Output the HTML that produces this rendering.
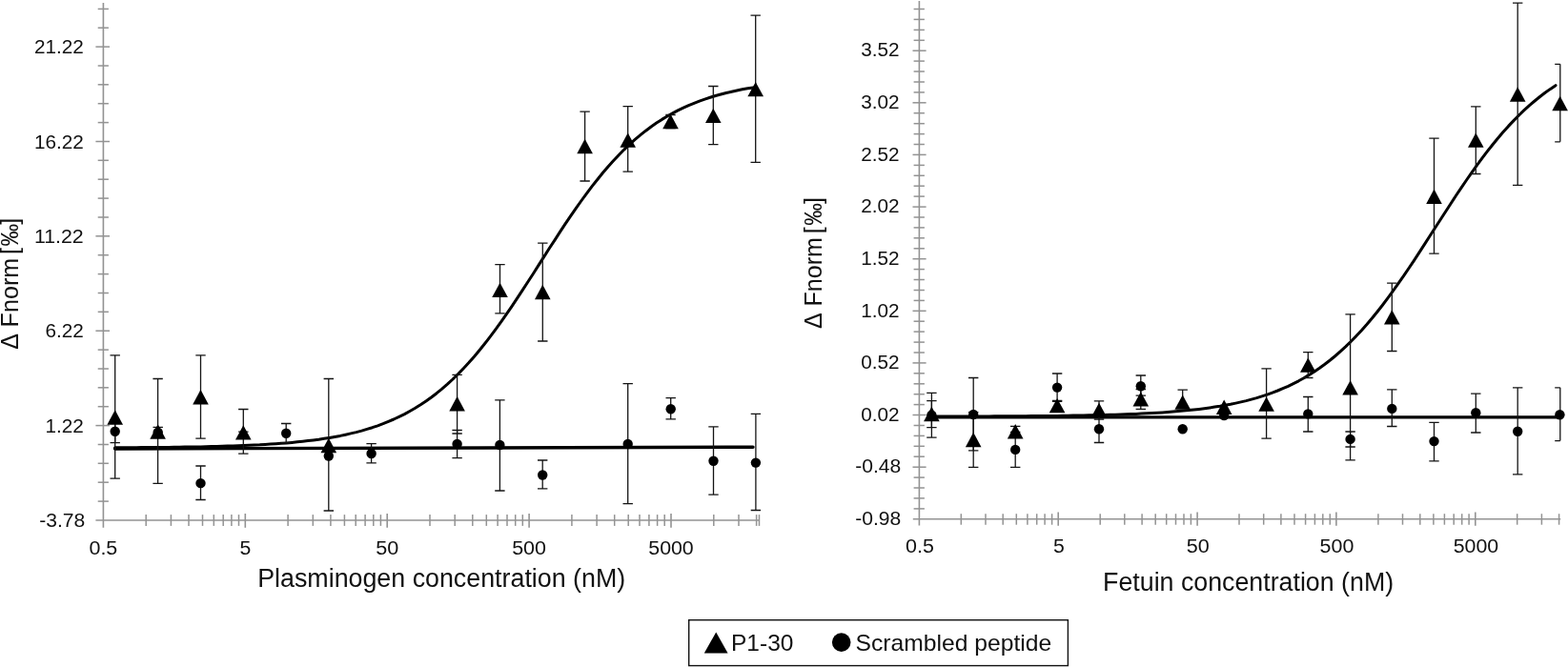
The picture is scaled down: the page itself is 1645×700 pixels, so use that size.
<!DOCTYPE html>
<html lang="en"><head><meta charset="utf-8"><title>MST binding curves</title>
<style>
html,body{margin:0;padding:0;background:#fff;}
body{width:1645px;height:700px;overflow:hidden;}
svg{display:block;}
svg text{font-family:"Liberation Sans",sans-serif;fill:#111;}
</style></head><body>
<svg width="1645" height="700" viewBox="0 0 1645 700">
<rect width="1645" height="700" fill="#fff"/>
<line x1="108.4" y1="3.0" x2="108.4" y2="553.8" stroke="#939393" stroke-width="1.6"/>
<line x1="100.4" y1="546.0" x2="796.6" y2="546.0" stroke="#939393" stroke-width="1.6"/>
<line x1="102.7" y1="9.4" x2="113.9" y2="9.4" stroke="#939393" stroke-width="1.5"/>
<line x1="102.7" y1="29.2" x2="113.9" y2="29.2" stroke="#939393" stroke-width="1.5"/>
<line x1="100.4" y1="49.1" x2="115.0" y2="49.1" stroke="#939393" stroke-width="1.5"/>
<line x1="102.7" y1="69.0" x2="113.9" y2="69.0" stroke="#939393" stroke-width="1.5"/>
<line x1="102.7" y1="88.8" x2="113.9" y2="88.8" stroke="#939393" stroke-width="1.5"/>
<line x1="102.7" y1="108.7" x2="113.9" y2="108.7" stroke="#939393" stroke-width="1.5"/>
<line x1="102.7" y1="128.6" x2="113.9" y2="128.6" stroke="#939393" stroke-width="1.5"/>
<line x1="100.4" y1="148.5" x2="115.0" y2="148.5" stroke="#939393" stroke-width="1.5"/>
<line x1="102.7" y1="168.3" x2="113.9" y2="168.3" stroke="#939393" stroke-width="1.5"/>
<line x1="102.7" y1="188.2" x2="113.9" y2="188.2" stroke="#939393" stroke-width="1.5"/>
<line x1="102.7" y1="208.1" x2="113.9" y2="208.1" stroke="#939393" stroke-width="1.5"/>
<line x1="102.7" y1="228.0" x2="113.9" y2="228.0" stroke="#939393" stroke-width="1.5"/>
<line x1="100.4" y1="247.8" x2="115.0" y2="247.8" stroke="#939393" stroke-width="1.5"/>
<line x1="102.7" y1="267.7" x2="113.9" y2="267.7" stroke="#939393" stroke-width="1.5"/>
<line x1="102.7" y1="287.6" x2="113.9" y2="287.6" stroke="#939393" stroke-width="1.5"/>
<line x1="102.7" y1="307.5" x2="113.9" y2="307.5" stroke="#939393" stroke-width="1.5"/>
<line x1="102.7" y1="327.3" x2="113.9" y2="327.3" stroke="#939393" stroke-width="1.5"/>
<line x1="100.4" y1="347.2" x2="115.0" y2="347.2" stroke="#939393" stroke-width="1.5"/>
<line x1="102.7" y1="367.1" x2="113.9" y2="367.1" stroke="#939393" stroke-width="1.5"/>
<line x1="102.7" y1="387.0" x2="113.9" y2="387.0" stroke="#939393" stroke-width="1.5"/>
<line x1="102.7" y1="406.8" x2="113.9" y2="406.8" stroke="#939393" stroke-width="1.5"/>
<line x1="102.7" y1="426.7" x2="113.9" y2="426.7" stroke="#939393" stroke-width="1.5"/>
<line x1="100.4" y1="446.6" x2="115.0" y2="446.6" stroke="#939393" stroke-width="1.5"/>
<line x1="102.7" y1="466.5" x2="113.9" y2="466.5" stroke="#939393" stroke-width="1.5"/>
<line x1="102.7" y1="486.3" x2="113.9" y2="486.3" stroke="#939393" stroke-width="1.5"/>
<line x1="102.7" y1="506.2" x2="113.9" y2="506.2" stroke="#939393" stroke-width="1.5"/>
<line x1="102.7" y1="526.1" x2="113.9" y2="526.1" stroke="#939393" stroke-width="1.5"/>
<line x1="153.2" y1="540.1" x2="153.2" y2="551.9" stroke="#939393" stroke-width="1.5"/>
<line x1="179.4" y1="540.1" x2="179.4" y2="551.9" stroke="#939393" stroke-width="1.5"/>
<line x1="198.0" y1="540.1" x2="198.0" y2="551.9" stroke="#939393" stroke-width="1.5"/>
<line x1="212.5" y1="540.1" x2="212.5" y2="551.9" stroke="#939393" stroke-width="1.5"/>
<line x1="224.3" y1="540.1" x2="224.3" y2="551.9" stroke="#939393" stroke-width="1.5"/>
<line x1="234.2" y1="540.1" x2="234.2" y2="551.9" stroke="#939393" stroke-width="1.5"/>
<line x1="242.9" y1="540.1" x2="242.9" y2="551.9" stroke="#939393" stroke-width="1.5"/>
<line x1="250.5" y1="540.1" x2="250.5" y2="551.9" stroke="#939393" stroke-width="1.5"/>
<line x1="257.3" y1="539.0" x2="257.3" y2="553.8" stroke="#939393" stroke-width="1.6"/>
<line x1="302.1" y1="540.1" x2="302.1" y2="551.9" stroke="#939393" stroke-width="1.5"/>
<line x1="328.3" y1="540.1" x2="328.3" y2="551.9" stroke="#939393" stroke-width="1.5"/>
<line x1="346.9" y1="540.1" x2="346.9" y2="551.9" stroke="#939393" stroke-width="1.5"/>
<line x1="361.4" y1="540.1" x2="361.4" y2="551.9" stroke="#939393" stroke-width="1.5"/>
<line x1="373.2" y1="540.1" x2="373.2" y2="551.9" stroke="#939393" stroke-width="1.5"/>
<line x1="383.1" y1="540.1" x2="383.1" y2="551.9" stroke="#939393" stroke-width="1.5"/>
<line x1="391.8" y1="540.1" x2="391.8" y2="551.9" stroke="#939393" stroke-width="1.5"/>
<line x1="399.4" y1="540.1" x2="399.4" y2="551.9" stroke="#939393" stroke-width="1.5"/>
<line x1="406.2" y1="539.0" x2="406.2" y2="553.8" stroke="#939393" stroke-width="1.6"/>
<line x1="451.0" y1="540.1" x2="451.0" y2="551.9" stroke="#939393" stroke-width="1.5"/>
<line x1="477.2" y1="540.1" x2="477.2" y2="551.9" stroke="#939393" stroke-width="1.5"/>
<line x1="495.8" y1="540.1" x2="495.8" y2="551.9" stroke="#939393" stroke-width="1.5"/>
<line x1="510.3" y1="540.1" x2="510.3" y2="551.9" stroke="#939393" stroke-width="1.5"/>
<line x1="522.1" y1="540.1" x2="522.1" y2="551.9" stroke="#939393" stroke-width="1.5"/>
<line x1="532.0" y1="540.1" x2="532.0" y2="551.9" stroke="#939393" stroke-width="1.5"/>
<line x1="540.7" y1="540.1" x2="540.7" y2="551.9" stroke="#939393" stroke-width="1.5"/>
<line x1="548.3" y1="540.1" x2="548.3" y2="551.9" stroke="#939393" stroke-width="1.5"/>
<line x1="555.1" y1="539.0" x2="555.1" y2="553.8" stroke="#939393" stroke-width="1.6"/>
<line x1="599.9" y1="540.1" x2="599.9" y2="551.9" stroke="#939393" stroke-width="1.5"/>
<line x1="626.1" y1="540.1" x2="626.1" y2="551.9" stroke="#939393" stroke-width="1.5"/>
<line x1="644.7" y1="540.1" x2="644.7" y2="551.9" stroke="#939393" stroke-width="1.5"/>
<line x1="659.2" y1="540.1" x2="659.2" y2="551.9" stroke="#939393" stroke-width="1.5"/>
<line x1="671.0" y1="540.1" x2="671.0" y2="551.9" stroke="#939393" stroke-width="1.5"/>
<line x1="680.9" y1="540.1" x2="680.9" y2="551.9" stroke="#939393" stroke-width="1.5"/>
<line x1="689.6" y1="540.1" x2="689.6" y2="551.9" stroke="#939393" stroke-width="1.5"/>
<line x1="697.2" y1="540.1" x2="697.2" y2="551.9" stroke="#939393" stroke-width="1.5"/>
<line x1="704.0" y1="539.0" x2="704.0" y2="553.8" stroke="#939393" stroke-width="1.6"/>
<line x1="748.8" y1="540.1" x2="748.8" y2="551.9" stroke="#939393" stroke-width="1.5"/>
<line x1="775.0" y1="540.1" x2="775.0" y2="551.9" stroke="#939393" stroke-width="1.5"/>
<line x1="793.6" y1="540.1" x2="793.6" y2="551.9" stroke="#939393" stroke-width="1.5"/>
<line x1="796.5" y1="540.1" x2="796.5" y2="551.9" stroke="#939393" stroke-width="1.5"/>
<text x="87.7" y="56.2" font-size="20" text-anchor="end" textLength="51.8" lengthAdjust="spacingAndGlyphs">21.22</text>
<text x="87.7" y="155.6" font-size="20" text-anchor="end" textLength="51.8" lengthAdjust="spacingAndGlyphs">16.22</text>
<text x="87.7" y="254.9" font-size="20" text-anchor="end" textLength="51.8" lengthAdjust="spacingAndGlyphs">11.22</text>
<text x="87.7" y="354.3" font-size="20" text-anchor="end" textLength="40.3" lengthAdjust="spacingAndGlyphs">6.22</text>
<text x="87.7" y="453.7" font-size="20" text-anchor="end" textLength="40.3" lengthAdjust="spacingAndGlyphs">1.22</text>
<text x="89.3" y="553.0" font-size="20" text-anchor="end" textLength="48" lengthAdjust="spacingAndGlyphs">-3.78</text>
<text x="108.4" y="581.5" font-size="20" text-anchor="middle" textLength="29.8" lengthAdjust="spacingAndGlyphs">0.5</text>
<text x="257.3" y="581.5" font-size="20" text-anchor="middle" textLength="11.8" lengthAdjust="spacingAndGlyphs">5</text>
<text x="406.2" y="581.5" font-size="20" text-anchor="middle" textLength="24" lengthAdjust="spacingAndGlyphs">50</text>
<text x="555.1" y="581.5" font-size="20" text-anchor="middle" textLength="35.8" lengthAdjust="spacingAndGlyphs">500</text>
<text x="704.0" y="581.5" font-size="20" text-anchor="middle" textLength="47.4" lengthAdjust="spacingAndGlyphs">5000</text>
<text x="270.2" y="616.0" font-size="27" text-anchor="start" textLength="386" lengthAdjust="spacingAndGlyphs">Plasminogen concentration (nM)</text>
<g transform="translate(19.3,366.4) rotate(-90)" font-size="25">
<text x="-0.4" y="0">Δ</text>
<text x="23" y="0" textLength="72.6" lengthAdjust="spacingAndGlyphs">Fnorm</text>
<text x="99.3" y="0">[</text>
<text x="107.8" y="0" textLength="23.6" lengthAdjust="spacingAndGlyphs">‰</text>
<text x="130.6" y="0">]</text>
</g>
<line x1="120.6" y1="471.0" x2="790.0" y2="469.2" stroke="#000" stroke-width="3.4" stroke-linecap="round"/>
<path d="M120.6 469.8L126.2 469.8L131.9 469.7L137.5 469.7L143.1 469.7L148.7 469.6L154.4 469.6L160.0 469.5L165.6 469.5L171.2 469.4L176.9 469.4L182.5 469.3L188.1 469.2L193.7 469.1L199.4 469.1L205.0 469.0L210.6 468.9L216.2 468.7L221.9 468.6L227.5 468.5L233.1 468.3L238.7 468.1L244.4 468.0L250.0 467.8L255.6 467.5L261.2 467.3L266.9 467.0L272.5 466.8L278.1 466.4L283.7 466.1L289.4 465.7L295.0 465.3L300.6 464.9L306.2 464.4L311.9 463.8L317.5 463.2L323.1 462.6L328.7 461.9L334.4 461.2L340.0 460.3L345.6 459.4L351.2 458.4L356.9 457.4L362.5 456.2L368.1 454.9L373.7 453.6L379.4 452.1L385.0 450.4L390.6 448.7L396.2 446.8L401.9 444.7L407.5 442.4L413.1 440.0L418.7 437.4L424.4 434.6L430.0 431.5L435.6 428.3L441.2 424.8L446.9 421.0L452.5 417.0L458.1 412.7L463.7 408.1L469.4 403.2L475.0 398.0L480.6 392.5L486.2 386.7L491.9 380.6L497.5 374.2L503.1 367.5L508.7 360.5L514.4 353.2L520.0 345.7L525.6 337.9L531.2 329.9L536.9 321.6L542.5 313.2L548.1 304.7L553.7 296.0L559.4 287.2L565.0 278.4L570.6 269.6L576.2 260.8L581.9 252.1L587.5 243.4L593.1 234.9L598.7 226.6L604.4 218.4L610.0 210.5L615.6 202.8L621.2 195.4L626.9 188.2L632.5 181.3L638.1 174.7L643.7 168.5L649.4 162.5L655.0 156.8L660.6 151.5L666.2 146.4L671.9 141.7L677.5 137.2L683.1 133.0L688.7 129.1L694.4 125.4L700.0 122.0L705.6 118.9L711.2 115.9L716.9 113.2L722.5 110.6L728.1 108.3L733.7 106.1L739.4 104.1L745.0 102.3L750.6 100.5L756.2 99.0L761.9 97.5L767.5 96.2L773.1 95.0L778.7 93.8L784.4 92.8L790.0 91.9" fill="none" stroke="#000" stroke-width="3.0" stroke-linecap="round" stroke-linejoin="round"/>
<path d="M120.7 440.8V464.6M115.5 440.8H125.9M115.5 464.6H125.9" fill="none" stroke="#141414" stroke-width="1.3"/>
<path d="M165.7 448.4V457.5M160.5 448.4H170.9M160.5 457.5H170.9" fill="none" stroke="#141414" stroke-width="1.3"/>
<path d="M210.5 489.0V524.5M205.3 489.0H215.7M205.3 524.5H215.7" fill="none" stroke="#141414" stroke-width="1.3"/>
<path d="M255.3 453.2V460.0M250.1 453.2H260.5M250.1 460.0H260.5" fill="none" stroke="#141414" stroke-width="1.3"/>
<path d="M300.2 444.5V464.9M295.0 444.5H305.4M295.0 464.9H305.4" fill="none" stroke="#141414" stroke-width="1.3"/>
<path d="M389.6 465.6V485.8M384.4 465.6H394.8M384.4 485.8H394.8" fill="none" stroke="#141414" stroke-width="1.3"/>
<path d="M479.6 451.5V480.7M474.4 451.5H484.8M474.4 480.7H484.8" fill="none" stroke="#141414" stroke-width="1.3"/>
<path d="M524.4 419.8V515.0M519.2 419.8H529.6M519.2 515.0H529.6" fill="none" stroke="#141414" stroke-width="1.3"/>
<path d="M569.2 483.0V512.8M564.0 483.0H574.4M564.0 512.8H574.4" fill="none" stroke="#141414" stroke-width="1.3"/>
<path d="M658.7 402.7V528.7M653.5 402.7H663.9M653.5 528.7H663.9" fill="none" stroke="#141414" stroke-width="1.3"/>
<path d="M703.7 417.7V439.9M698.5 417.7H708.9M698.5 439.9H708.9" fill="none" stroke="#141414" stroke-width="1.3"/>
<path d="M748.5 447.9V519.1M743.3 447.9H753.7M743.3 519.1H753.7" fill="none" stroke="#141414" stroke-width="1.3"/>
<path d="M792.9 434.4V535.5M787.7 434.4H798.1M787.7 535.5H798.1" fill="none" stroke="#141414" stroke-width="1.3"/>
<path d="M120.7 372.8V502.2M115.5 372.8H125.9M115.5 502.2H125.9" fill="none" stroke="#141414" stroke-width="1.3"/>
<path d="M165.6 397.5V507.3M160.4 397.5H170.8M160.4 507.3H170.8" fill="none" stroke="#141414" stroke-width="1.3"/>
<path d="M210.5 372.8V460.2M205.3 372.8H215.7M205.3 460.2H215.7" fill="none" stroke="#141414" stroke-width="1.3"/>
<path d="M255.3 429.5V476.1M250.1 429.5H260.5M250.1 476.1H260.5" fill="none" stroke="#141414" stroke-width="1.3"/>
<path d="M344.8 397.5V536.0M339.6 397.5H350.0M339.6 536.0H350.0" fill="none" stroke="#141414" stroke-width="1.3"/>
<path d="M479.6 393.3V455.0M474.4 393.3H484.8M474.4 455.0H484.8" fill="none" stroke="#141414" stroke-width="1.3"/>
<path d="M524.5 277.7V328.9M519.3 277.7H529.7M519.3 328.9H529.7" fill="none" stroke="#141414" stroke-width="1.3"/>
<path d="M569.3 255.2V358.0M564.1 255.2H574.5M564.1 358.0H574.5" fill="none" stroke="#141414" stroke-width="1.3"/>
<path d="M613.6 117.2V190.0M608.4 117.2H618.8M608.4 190.0H618.8" fill="none" stroke="#141414" stroke-width="1.3"/>
<path d="M658.7 111.7V180.1M653.5 111.7H663.9M653.5 180.1H663.9" fill="none" stroke="#141414" stroke-width="1.3"/>
<path d="M703.5 120.5V134.5M698.3 120.5H708.7M698.3 134.5H708.7" fill="none" stroke="#141414" stroke-width="1.3"/>
<path d="M748.3 90.5V151.6M743.1 90.5H753.5M743.1 151.6H753.5" fill="none" stroke="#141414" stroke-width="1.3"/>
<path d="M792.7 16.1V170.4M787.5 16.1H797.9M787.5 170.4H797.9" fill="none" stroke="#141414" stroke-width="1.3"/>
<circle cx="120.7" cy="452.7" r="5.2" fill="#000"/>
<circle cx="165.7" cy="453.6" r="5.2" fill="#000"/>
<circle cx="210.5" cy="507.1" r="5.2" fill="#000"/>
<circle cx="300.2" cy="454.7" r="5.2" fill="#000"/>
<circle cx="344.8" cy="478.5" r="5.2" fill="#000"/>
<circle cx="389.6" cy="476.0" r="5.2" fill="#000"/>
<circle cx="479.6" cy="466.0" r="5.2" fill="#000"/>
<circle cx="524.4" cy="467.0" r="5.2" fill="#000"/>
<circle cx="569.2" cy="498.5" r="5.2" fill="#000"/>
<circle cx="658.7" cy="466.0" r="5.2" fill="#000"/>
<circle cx="703.7" cy="429.3" r="5.2" fill="#000"/>
<circle cx="748.5" cy="483.7" r="5.2" fill="#000"/>
<circle cx="792.9" cy="485.6" r="5.2" fill="#000"/>
<path d="M120.7 430.3L129.0 445.7H112.4Z" fill="#000"/>
<path d="M165.6 445.3L173.9 460.7H157.3Z" fill="#000"/>
<path d="M210.5 409.0L218.8 424.4H202.2Z" fill="#000"/>
<path d="M255.3 446.2L263.6 461.6H247.0Z" fill="#000"/>
<path d="M344.8 459.8L353.1 475.2H336.5Z" fill="#000"/>
<path d="M479.6 416.0L487.9 431.4H471.3Z" fill="#000"/>
<path d="M524.5 296.7L532.8 312.1H516.2Z" fill="#000"/>
<path d="M569.3 298.8L577.6 314.2H561.0Z" fill="#000"/>
<path d="M613.6 145.8L621.9 161.2H605.3Z" fill="#000"/>
<path d="M658.7 139.4L667.0 154.8H650.4Z" fill="#000"/>
<path d="M703.5 119.8L711.8 135.2H695.2Z" fill="#000"/>
<path d="M748.3 113.7L756.6 129.1H740.0Z" fill="#000"/>
<path d="M792.7 85.9L801.0 101.3H784.4Z" fill="#000"/>
<line x1="964.4" y1="1.0" x2="964.4" y2="551.6" stroke="#939393" stroke-width="1.6"/>
<line x1="957.8" y1="544.8" x2="1637.2" y2="544.8" stroke="#939393" stroke-width="1.6"/>
<line x1="958.6" y1="9.5" x2="969.9" y2="9.5" stroke="#939393" stroke-width="1.5"/>
<line x1="958.6" y1="20.4" x2="969.9" y2="20.4" stroke="#939393" stroke-width="1.5"/>
<line x1="958.6" y1="31.4" x2="969.9" y2="31.4" stroke="#939393" stroke-width="1.5"/>
<line x1="958.6" y1="42.3" x2="969.9" y2="42.3" stroke="#939393" stroke-width="1.5"/>
<line x1="957.5" y1="53.2" x2="971.6" y2="53.2" stroke="#939393" stroke-width="1.5"/>
<line x1="958.6" y1="64.1" x2="969.9" y2="64.1" stroke="#939393" stroke-width="1.5"/>
<line x1="958.6" y1="75.0" x2="969.9" y2="75.0" stroke="#939393" stroke-width="1.5"/>
<line x1="958.6" y1="86.0" x2="969.9" y2="86.0" stroke="#939393" stroke-width="1.5"/>
<line x1="958.6" y1="96.9" x2="969.9" y2="96.9" stroke="#939393" stroke-width="1.5"/>
<line x1="957.5" y1="107.8" x2="971.6" y2="107.8" stroke="#939393" stroke-width="1.5"/>
<line x1="958.6" y1="118.7" x2="969.9" y2="118.7" stroke="#939393" stroke-width="1.5"/>
<line x1="958.6" y1="129.7" x2="969.9" y2="129.7" stroke="#939393" stroke-width="1.5"/>
<line x1="958.6" y1="140.6" x2="969.9" y2="140.6" stroke="#939393" stroke-width="1.5"/>
<line x1="958.6" y1="151.5" x2="969.9" y2="151.5" stroke="#939393" stroke-width="1.5"/>
<line x1="957.5" y1="162.4" x2="971.6" y2="162.4" stroke="#939393" stroke-width="1.5"/>
<line x1="958.6" y1="173.4" x2="969.9" y2="173.4" stroke="#939393" stroke-width="1.5"/>
<line x1="958.6" y1="184.3" x2="969.9" y2="184.3" stroke="#939393" stroke-width="1.5"/>
<line x1="958.6" y1="195.2" x2="969.9" y2="195.2" stroke="#939393" stroke-width="1.5"/>
<line x1="958.6" y1="206.1" x2="969.9" y2="206.1" stroke="#939393" stroke-width="1.5"/>
<line x1="957.5" y1="217.1" x2="971.6" y2="217.1" stroke="#939393" stroke-width="1.5"/>
<line x1="958.6" y1="228.0" x2="969.9" y2="228.0" stroke="#939393" stroke-width="1.5"/>
<line x1="958.6" y1="238.9" x2="969.9" y2="238.9" stroke="#939393" stroke-width="1.5"/>
<line x1="958.6" y1="249.8" x2="969.9" y2="249.8" stroke="#939393" stroke-width="1.5"/>
<line x1="958.6" y1="260.8" x2="969.9" y2="260.8" stroke="#939393" stroke-width="1.5"/>
<line x1="957.5" y1="271.7" x2="971.6" y2="271.7" stroke="#939393" stroke-width="1.5"/>
<line x1="958.6" y1="282.6" x2="969.9" y2="282.6" stroke="#939393" stroke-width="1.5"/>
<line x1="958.6" y1="293.5" x2="969.9" y2="293.5" stroke="#939393" stroke-width="1.5"/>
<line x1="958.6" y1="304.5" x2="969.9" y2="304.5" stroke="#939393" stroke-width="1.5"/>
<line x1="958.6" y1="315.4" x2="969.9" y2="315.4" stroke="#939393" stroke-width="1.5"/>
<line x1="957.5" y1="326.3" x2="971.6" y2="326.3" stroke="#939393" stroke-width="1.5"/>
<line x1="958.6" y1="337.2" x2="969.9" y2="337.2" stroke="#939393" stroke-width="1.5"/>
<line x1="958.6" y1="348.1" x2="969.9" y2="348.1" stroke="#939393" stroke-width="1.5"/>
<line x1="958.6" y1="359.1" x2="969.9" y2="359.1" stroke="#939393" stroke-width="1.5"/>
<line x1="958.6" y1="370.0" x2="969.9" y2="370.0" stroke="#939393" stroke-width="1.5"/>
<line x1="957.5" y1="380.9" x2="971.6" y2="380.9" stroke="#939393" stroke-width="1.5"/>
<line x1="958.6" y1="391.8" x2="969.9" y2="391.8" stroke="#939393" stroke-width="1.5"/>
<line x1="958.6" y1="402.8" x2="969.9" y2="402.8" stroke="#939393" stroke-width="1.5"/>
<line x1="958.6" y1="413.7" x2="969.9" y2="413.7" stroke="#939393" stroke-width="1.5"/>
<line x1="958.6" y1="424.6" x2="969.9" y2="424.6" stroke="#939393" stroke-width="1.5"/>
<line x1="957.5" y1="435.5" x2="971.6" y2="435.5" stroke="#939393" stroke-width="1.5"/>
<line x1="958.6" y1="446.5" x2="969.9" y2="446.5" stroke="#939393" stroke-width="1.5"/>
<line x1="958.6" y1="457.4" x2="969.9" y2="457.4" stroke="#939393" stroke-width="1.5"/>
<line x1="958.6" y1="468.3" x2="969.9" y2="468.3" stroke="#939393" stroke-width="1.5"/>
<line x1="958.6" y1="479.2" x2="969.9" y2="479.2" stroke="#939393" stroke-width="1.5"/>
<line x1="957.5" y1="490.2" x2="971.6" y2="490.2" stroke="#939393" stroke-width="1.5"/>
<line x1="958.6" y1="501.1" x2="969.9" y2="501.1" stroke="#939393" stroke-width="1.5"/>
<line x1="958.6" y1="512.0" x2="969.9" y2="512.0" stroke="#939393" stroke-width="1.5"/>
<line x1="958.6" y1="522.9" x2="969.9" y2="522.9" stroke="#939393" stroke-width="1.5"/>
<line x1="958.6" y1="533.9" x2="969.9" y2="533.9" stroke="#939393" stroke-width="1.5"/>
<line x1="1008.3" y1="539.2" x2="1008.3" y2="550.7" stroke="#939393" stroke-width="1.5"/>
<line x1="1034.0" y1="539.2" x2="1034.0" y2="550.7" stroke="#939393" stroke-width="1.5"/>
<line x1="1052.2" y1="539.2" x2="1052.2" y2="550.7" stroke="#939393" stroke-width="1.5"/>
<line x1="1066.3" y1="539.2" x2="1066.3" y2="550.7" stroke="#939393" stroke-width="1.5"/>
<line x1="1077.9" y1="539.2" x2="1077.9" y2="550.7" stroke="#939393" stroke-width="1.5"/>
<line x1="1087.7" y1="539.2" x2="1087.7" y2="550.7" stroke="#939393" stroke-width="1.5"/>
<line x1="1096.1" y1="539.2" x2="1096.1" y2="550.7" stroke="#939393" stroke-width="1.5"/>
<line x1="1103.6" y1="539.2" x2="1103.6" y2="550.7" stroke="#939393" stroke-width="1.5"/>
<line x1="1110.2" y1="537.6" x2="1110.2" y2="551.8" stroke="#939393" stroke-width="1.6"/>
<line x1="1154.2" y1="539.2" x2="1154.2" y2="550.7" stroke="#939393" stroke-width="1.5"/>
<line x1="1179.8" y1="539.2" x2="1179.8" y2="550.7" stroke="#939393" stroke-width="1.5"/>
<line x1="1198.1" y1="539.2" x2="1198.1" y2="550.7" stroke="#939393" stroke-width="1.5"/>
<line x1="1212.2" y1="539.2" x2="1212.2" y2="550.7" stroke="#939393" stroke-width="1.5"/>
<line x1="1223.7" y1="539.2" x2="1223.7" y2="550.7" stroke="#939393" stroke-width="1.5"/>
<line x1="1233.5" y1="539.2" x2="1233.5" y2="550.7" stroke="#939393" stroke-width="1.5"/>
<line x1="1242.0" y1="539.2" x2="1242.0" y2="550.7" stroke="#939393" stroke-width="1.5"/>
<line x1="1249.4" y1="539.2" x2="1249.4" y2="550.7" stroke="#939393" stroke-width="1.5"/>
<line x1="1256.1" y1="537.6" x2="1256.1" y2="551.8" stroke="#939393" stroke-width="1.6"/>
<line x1="1300.0" y1="539.2" x2="1300.0" y2="550.7" stroke="#939393" stroke-width="1.5"/>
<line x1="1325.7" y1="539.2" x2="1325.7" y2="550.7" stroke="#939393" stroke-width="1.5"/>
<line x1="1343.9" y1="539.2" x2="1343.9" y2="550.7" stroke="#939393" stroke-width="1.5"/>
<line x1="1358.0" y1="539.2" x2="1358.0" y2="550.7" stroke="#939393" stroke-width="1.5"/>
<line x1="1369.6" y1="539.2" x2="1369.6" y2="550.7" stroke="#939393" stroke-width="1.5"/>
<line x1="1379.4" y1="539.2" x2="1379.4" y2="550.7" stroke="#939393" stroke-width="1.5"/>
<line x1="1387.8" y1="539.2" x2="1387.8" y2="550.7" stroke="#939393" stroke-width="1.5"/>
<line x1="1395.3" y1="539.2" x2="1395.3" y2="550.7" stroke="#939393" stroke-width="1.5"/>
<line x1="1401.9" y1="537.6" x2="1401.9" y2="551.8" stroke="#939393" stroke-width="1.6"/>
<line x1="1445.9" y1="539.2" x2="1445.9" y2="550.7" stroke="#939393" stroke-width="1.5"/>
<line x1="1471.5" y1="539.2" x2="1471.5" y2="550.7" stroke="#939393" stroke-width="1.5"/>
<line x1="1489.8" y1="539.2" x2="1489.8" y2="550.7" stroke="#939393" stroke-width="1.5"/>
<line x1="1503.9" y1="539.2" x2="1503.9" y2="550.7" stroke="#939393" stroke-width="1.5"/>
<line x1="1515.4" y1="539.2" x2="1515.4" y2="550.7" stroke="#939393" stroke-width="1.5"/>
<line x1="1525.2" y1="539.2" x2="1525.2" y2="550.7" stroke="#939393" stroke-width="1.5"/>
<line x1="1533.7" y1="539.2" x2="1533.7" y2="550.7" stroke="#939393" stroke-width="1.5"/>
<line x1="1541.1" y1="539.2" x2="1541.1" y2="550.7" stroke="#939393" stroke-width="1.5"/>
<line x1="1547.8" y1="537.6" x2="1547.8" y2="551.8" stroke="#939393" stroke-width="1.6"/>
<line x1="1591.7" y1="539.2" x2="1591.7" y2="550.7" stroke="#939393" stroke-width="1.5"/>
<line x1="1617.4" y1="539.2" x2="1617.4" y2="550.7" stroke="#939393" stroke-width="1.5"/>
<line x1="1635.6" y1="539.2" x2="1635.6" y2="550.7" stroke="#939393" stroke-width="1.5"/>
<text x="943.6" y="59.4" font-size="20" text-anchor="end" textLength="40.3" lengthAdjust="spacingAndGlyphs">3.52</text>
<text x="943.6" y="114.0" font-size="20" text-anchor="end" textLength="40.3" lengthAdjust="spacingAndGlyphs">3.02</text>
<text x="943.6" y="168.6" font-size="20" text-anchor="end" textLength="40.3" lengthAdjust="spacingAndGlyphs">2.52</text>
<text x="943.6" y="223.3" font-size="20" text-anchor="end" textLength="40.3" lengthAdjust="spacingAndGlyphs">2.02</text>
<text x="943.6" y="277.9" font-size="20" text-anchor="end" textLength="40.3" lengthAdjust="spacingAndGlyphs">1.52</text>
<text x="943.6" y="332.5" font-size="20" text-anchor="end" textLength="40.3" lengthAdjust="spacingAndGlyphs">1.02</text>
<text x="943.6" y="387.1" font-size="20" text-anchor="end" textLength="40.3" lengthAdjust="spacingAndGlyphs">0.52</text>
<text x="943.6" y="441.7" font-size="20" text-anchor="end" textLength="40.3" lengthAdjust="spacingAndGlyphs">0.02</text>
<text x="945.2" y="496.4" font-size="20" text-anchor="end" textLength="48" lengthAdjust="spacingAndGlyphs">-0.48</text>
<text x="945.2" y="551.0" font-size="20" text-anchor="end" textLength="48" lengthAdjust="spacingAndGlyphs">-0.98</text>
<text x="965.0" y="580.0" font-size="20" text-anchor="middle" textLength="29.8" lengthAdjust="spacingAndGlyphs">0.5</text>
<text x="1110.8" y="580.0" font-size="20" text-anchor="middle" textLength="11.8" lengthAdjust="spacingAndGlyphs">5</text>
<text x="1256.7" y="580.0" font-size="20" text-anchor="middle" textLength="24" lengthAdjust="spacingAndGlyphs">50</text>
<text x="1402.5" y="580.0" font-size="20" text-anchor="middle" textLength="35.8" lengthAdjust="spacingAndGlyphs">500</text>
<text x="1548.4" y="580.0" font-size="20" text-anchor="middle" textLength="47.4" lengthAdjust="spacingAndGlyphs">5000</text>
<text x="1157.1" y="620.0" font-size="27" text-anchor="start" textLength="305" lengthAdjust="spacingAndGlyphs">Fetuin concentration (nM)</text>
<g transform="translate(862.2,344.6) rotate(-90)" font-size="25">
<text x="-0.4" y="0">Δ</text>
<text x="23" y="0" textLength="72.6" lengthAdjust="spacingAndGlyphs">Fnorm</text>
<text x="99.3" y="0">[</text>
<text x="107.8" y="0" textLength="23.6" lengthAdjust="spacingAndGlyphs">‰</text>
<text x="130.6" y="0">]</text>
</g>
<line x1="977.3" y1="437.9" x2="1636.6" y2="437.9" stroke="#000" stroke-width="3.3" stroke-linecap="round"/>
<path d="M977.3 437.0L982.8 437.0L988.3 437.0L993.8 437.0L999.3 437.0L1004.8 437.0L1010.3 436.9L1015.8 436.9L1021.3 436.9L1026.8 436.9L1032.3 436.9L1037.8 436.9L1043.3 436.8L1048.8 436.8L1054.3 436.8L1059.8 436.8L1065.3 436.7L1070.8 436.7L1076.3 436.7L1081.8 436.6L1087.3 436.6L1092.8 436.5L1098.3 436.5L1103.8 436.4L1109.3 436.4L1114.8 436.3L1120.3 436.2L1125.8 436.1L1131.3 436.0L1136.8 435.9L1142.4 435.8L1147.9 435.7L1153.4 435.6L1158.9 435.5L1164.4 435.3L1169.9 435.2L1175.4 435.0L1180.9 434.8L1186.4 434.6L1191.9 434.4L1197.4 434.1L1202.9 433.8L1208.4 433.5L1213.9 433.2L1219.4 432.9L1224.9 432.5L1230.4 432.1L1235.9 431.6L1241.4 431.1L1246.9 430.6L1252.4 430.0L1257.9 429.4L1263.4 428.7L1268.9 427.9L1274.4 427.1L1279.9 426.3L1285.4 425.3L1290.9 424.3L1296.4 423.1L1301.9 421.9L1307.4 420.6L1312.9 419.1L1318.4 417.6L1323.9 415.9L1329.4 414.1L1334.9 412.1L1340.4 410.0L1345.9 407.7L1351.4 405.3L1356.9 402.6L1362.4 399.8L1367.9 396.7L1373.4 393.4L1378.9 389.9L1384.4 386.2L1389.9 382.2L1395.4 378.0L1400.9 373.5L1406.4 368.7L1411.9 363.6L1417.4 358.2L1422.9 352.6L1428.4 346.7L1433.9 340.5L1439.4 334.0L1444.9 327.2L1450.4 320.2L1455.9 312.9L1461.4 305.3L1466.9 297.6L1472.5 289.7L1478.0 281.5L1483.5 273.3L1489.0 264.9L1494.5 256.4L1500.0 247.8L1505.5 239.3L1511.0 230.7L1516.5 222.2L1522.0 213.7L1527.5 205.3L1533.0 197.1L1538.5 189.0L1544.0 181.1L1549.5 173.4L1555.0 165.9L1560.5 158.7L1566.0 151.7L1571.5 145.0L1577.0 138.6L1582.5 132.4L1588.0 126.6L1593.5 121.0L1599.0 115.7L1604.5 110.7L1610.0 106.0L1615.5 101.5L1621.0 97.3L1626.5 93.4L1632.0 89.7" fill="none" stroke="#000" stroke-width="3.0" stroke-linecap="round" stroke-linejoin="round"/>
<path d="M977.4 420.6V448.6M972.2 420.6H982.6M972.2 448.6H982.6" fill="none" stroke="#141414" stroke-width="1.3"/>
<path d="M1021.2 396.5V472.9M1016.0 396.5H1026.4M1016.0 472.9H1026.4" fill="none" stroke="#141414" stroke-width="1.3"/>
<path d="M1065.2 453.5V490.3M1060.0 453.5H1070.4M1060.0 490.3H1070.4" fill="none" stroke="#141414" stroke-width="1.3"/>
<path d="M1109.1 392.0V421.3M1103.9 392.0H1114.3M1103.9 421.3H1114.3" fill="none" stroke="#141414" stroke-width="1.3"/>
<path d="M1153.0 436.3V464.5M1147.8 436.3H1158.2M1147.8 464.5H1158.2" fill="none" stroke="#141414" stroke-width="1.3"/>
<path d="M1196.8 394.0V415.1M1191.6 394.0H1202.0M1191.6 415.1H1202.0" fill="none" stroke="#141414" stroke-width="1.3"/>
<path d="M1372.3 416.5V453.0M1367.1 416.5H1377.5M1367.1 453.0H1377.5" fill="none" stroke="#141414" stroke-width="1.3"/>
<path d="M1416.6 453.0V469.0M1411.4 453.0H1421.8M1411.4 469.0H1421.8" fill="none" stroke="#141414" stroke-width="1.3"/>
<path d="M1460.3 408.8V447.5M1455.1 408.8H1465.5M1455.1 447.5H1465.5" fill="none" stroke="#141414" stroke-width="1.3"/>
<path d="M1504.5 443.4V483.8M1499.3 443.4H1509.7M1499.3 483.8H1509.7" fill="none" stroke="#141414" stroke-width="1.3"/>
<path d="M1548.3 413.2V454.0M1543.1 413.2H1553.5M1543.1 454.0H1553.5" fill="none" stroke="#141414" stroke-width="1.3"/>
<path d="M1592.2 406.8V497.9M1587.0 406.8H1597.4M1587.0 497.9H1597.4" fill="none" stroke="#141414" stroke-width="1.3"/>
<path d="M977.4 412.4V459.2M972.2 412.4H982.6M972.2 459.2H982.6" fill="none" stroke="#141414" stroke-width="1.3"/>
<path d="M1021.2 432.7V490.3M1016.0 432.7H1026.4M1016.0 490.3H1026.4" fill="none" stroke="#141414" stroke-width="1.3"/>
<path d="M1065.2 447.3V458.3M1060.0 447.3H1070.4M1060.0 458.3H1070.4" fill="none" stroke="#141414" stroke-width="1.3"/>
<path d="M1109.1 420.3V431.0M1103.9 420.3H1114.3M1103.9 431.0H1114.3" fill="none" stroke="#141414" stroke-width="1.3"/>
<path d="M1153.0 420.8V440.0M1147.8 420.8H1158.2M1147.8 440.0H1158.2" fill="none" stroke="#141414" stroke-width="1.3"/>
<path d="M1196.8 408.5V429.3M1191.6 408.5H1202.0M1191.6 429.3H1202.0" fill="none" stroke="#141414" stroke-width="1.3"/>
<path d="M1240.7 409.1V428.0M1235.5 409.1H1245.9M1235.5 428.0H1245.9" fill="none" stroke="#141414" stroke-width="1.3"/>
<path d="M1328.6 386.8V460.1M1323.4 386.8H1333.8M1323.4 460.1H1333.8" fill="none" stroke="#141414" stroke-width="1.3"/>
<path d="M1372.3 369.7V396.5M1367.1 369.7H1377.5M1367.1 396.5H1377.5" fill="none" stroke="#141414" stroke-width="1.3"/>
<path d="M1416.6 329.9V482.9M1411.4 329.9H1421.8M1411.4 482.9H1421.8" fill="none" stroke="#141414" stroke-width="1.3"/>
<path d="M1460.3 297.2V368.5M1455.1 297.2H1465.5M1455.1 368.5H1465.5" fill="none" stroke="#141414" stroke-width="1.3"/>
<path d="M1504.5 145.2V266.1M1499.3 145.2H1509.7M1499.3 266.1H1509.7" fill="none" stroke="#141414" stroke-width="1.3"/>
<path d="M1548.3 111.8V182.5M1543.1 111.8H1553.5M1543.1 182.5H1553.5" fill="none" stroke="#141414" stroke-width="1.3"/>
<path d="M1592.2 3.1V194.4M1587.0 3.1H1597.4M1587.0 194.4H1597.4" fill="none" stroke="#141414" stroke-width="1.3"/>
<path d="M1636.8 406.8V462.6M1631.2 406.8H1636.8M1631.2 462.6H1636.8" fill="none" stroke="#141414" stroke-width="1.3"/>
<path d="M1636.8 67.3V148.8M1631.2 67.3H1636.8M1631.2 148.8H1636.8" fill="none" stroke="#141414" stroke-width="1.3"/>
<circle cx="977.4" cy="435.8" r="5.2" fill="#000"/>
<circle cx="1021.2" cy="435.0" r="5.2" fill="#000"/>
<circle cx="1065.2" cy="471.9" r="5.2" fill="#000"/>
<circle cx="1109.1" cy="406.6" r="5.2" fill="#000"/>
<circle cx="1153.0" cy="450.3" r="5.2" fill="#000"/>
<circle cx="1196.8" cy="405.3" r="5.2" fill="#000"/>
<circle cx="1240.7" cy="450.3" r="5.2" fill="#000"/>
<circle cx="1284.2" cy="436.0" r="5.2" fill="#000"/>
<circle cx="1372.3" cy="434.4" r="5.2" fill="#000"/>
<circle cx="1416.6" cy="460.9" r="5.2" fill="#000"/>
<circle cx="1460.3" cy="428.9" r="5.2" fill="#000"/>
<circle cx="1504.5" cy="463.1" r="5.2" fill="#000"/>
<circle cx="1548.3" cy="433.3" r="5.2" fill="#000"/>
<circle cx="1592.2" cy="452.7" r="5.2" fill="#000"/>
<circle cx="1636.4" cy="435.3" r="5.2" fill="#000"/>
<path d="M977.4 426.8L985.7 442.2H969.1Z" fill="#000"/>
<path d="M1021.2 453.8L1029.5 469.2H1012.9Z" fill="#000"/>
<path d="M1065.2 445.1L1073.5 460.5H1056.9Z" fill="#000"/>
<path d="M1109.1 417.9L1117.4 433.3H1100.8Z" fill="#000"/>
<path d="M1153.0 422.7L1161.3 438.1H1144.7Z" fill="#000"/>
<path d="M1196.8 411.2L1205.1 426.6H1188.5Z" fill="#000"/>
<path d="M1240.7 414.4L1249.0 429.8H1232.4Z" fill="#000"/>
<path d="M1284.2 419.6L1292.5 435.0H1275.9Z" fill="#000"/>
<path d="M1328.6 416.4L1336.9 431.8H1320.3Z" fill="#000"/>
<path d="M1372.3 375.4L1380.6 390.8H1364.0Z" fill="#000"/>
<path d="M1416.6 399.2L1424.9 414.6H1408.3Z" fill="#000"/>
<path d="M1460.3 325.2L1468.6 340.6H1452.0Z" fill="#000"/>
<path d="M1504.5 198.5L1512.8 213.9H1496.2Z" fill="#000"/>
<path d="M1548.3 139.4L1556.6 154.8H1540.0Z" fill="#000"/>
<path d="M1592.2 91.3L1600.5 106.7H1583.9Z" fill="#000"/>
<path d="M1636.6 100.8L1644.9 116.2H1628.3Z" fill="#000"/>
<rect x="722.7" y="650.7" width="397.7" height="47.9" fill="#fff" stroke="#111" stroke-width="1.4"/>
<path d="M751.2 663.4L763.6 685.5H738.8Z" fill="#000"/>
<circle cx="882.7" cy="674.1" r="9.8" fill="#000"/>
<text x="767.0" y="683.0" font-size="24" text-anchor="start" textLength="65.4" lengthAdjust="spacingAndGlyphs">P1-30</text>
<text x="897.6" y="683.0" font-size="24" text-anchor="start" textLength="205.6" lengthAdjust="spacingAndGlyphs">Scrambled peptide</text>
</svg>
</body></html>
